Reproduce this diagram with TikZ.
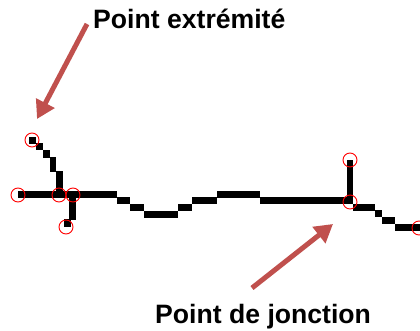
\documentclass[tikz,border=0pt]{standalone}
\usepackage{fontspec}
\setmainfont{Liberation Sans}
\usetikzlibrary{arrows.meta}
\definecolor{arrred}{HTML}{C0504D}
\tikzset{
  seg/.style={fill=black, draw=none},
  mark circle/.style={draw=red, line width=0.9pt, circle, minimum size=14pt, inner sep=0pt},
  callout/.style={draw=arrred, line width=5pt, -{Triangle[length=18pt,width=20pt]}},
  label text/.style={font=\fontsize{26.6}{30}\selectfont\bfseries, text=black, inner sep=0pt, anchor=base west}
}
\begin{document}
\begin{tikzpicture}[x=1pt,y=-1pt]
\useasboundingbox (0,0) rectangle (420,331);
% line segments (pixel stairs)
\fill[seg] (29,137) rectangle (36,144);
\fill[seg] (36,143) rectangle (43,150);
\fill[seg] (43,150) rectangle (50,158);
\fill[seg] (50,157) rectangle (56,172);
\fill[seg] (56,171) rectangle (63,192);
\fill[seg] (18,191) rectangle (117,198);
\fill[seg] (69,197) rectangle (76,220);
\fill[seg] (64,219) rectangle (71,227);
\fill[seg] (117,197) rectangle (130,204);
\fill[seg] (130,204) rectangle (144,211);
\fill[seg] (144,211) rectangle (178,218);
\fill[seg] (178,204) rectangle (192,211);
\fill[seg] (192,197) rectangle (217,204);
\fill[seg] (217,191) rectangle (260,198);
\fill[seg] (260,197) rectangle (353,204);
\fill[seg] (347,160) rectangle (353,200);
\fill[seg] (353,204) rectangle (375,211);
\fill[seg] (375,210) rectangle (382,217);
\fill[seg] (382,217) rectangle (395,224);
\fill[seg] (395,224) rectangle (420,231);
% marker circles
\node[mark circle] (e1) at (32,140) {};
\node[mark circle] (e2) at (18,195) {};
\node[mark circle] (j1) at (59,195) {};
\node[mark circle] (j2) at (73,195) {};
\node[mark circle] (e3) at (66,227) {};
\node[mark circle] (e4) at (350,160) {};
\node[mark circle] (j3) at (350,202) {};
\node[mark circle] (e5) at (419,228) {};
% labels
\node[label text] (t1) at (93,29) {Point extrémité};
\node[label text] (t2) at (155,323) {Point de jonction};
% arrows
\coordinate (a1s) at (87,24);
\coordinate (a1e) at (37,119);
\coordinate (a2s) at (252,288);
\coordinate (a2e) at (333,224);
\draw[callout] (a1s) -- (a1e);
\draw[callout] (a2s) -- (a2e);
\end{tikzpicture}
\end{document}
